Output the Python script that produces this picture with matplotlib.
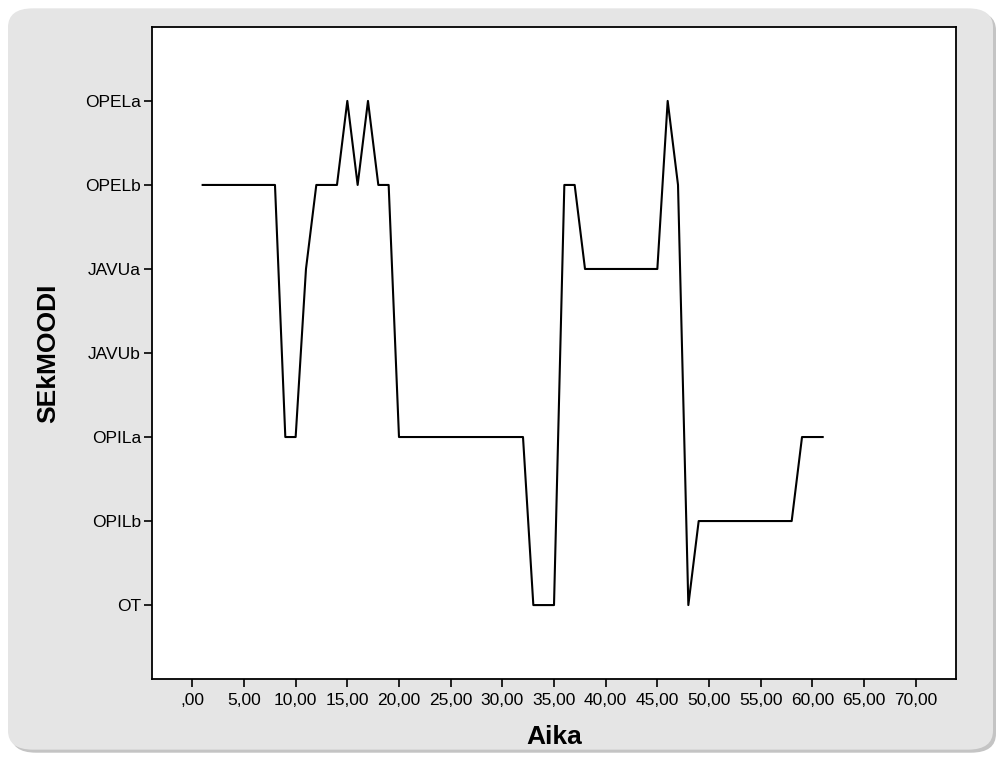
import matplotlib.pyplot as plt
from matplotlib.patches import FancyBboxPatch

plt.rcParams['font.family'] = ['Liberation Sans', 'DejaVu Sans']

# data
categories = ['OT', 'OPILb', 'OPILa', 'JAVUb', 'JAVUa', 'OPELb', 'OPELa']
aika = list(range(1, 62))
moodi = (['OPELb'] * 8 + ['OPILa'] * 2 + ['JAVUa'] + ['OPELb'] * 3 +
         ['OPELa', 'OPELb', 'OPELa', 'OPELb', 'OPELb'] + ['OPILa'] * 13 +
         ['OT'] * 3 + ['OPELb'] * 2 + ['JAVUa'] * 8 +
         ['OPELa', 'OPELb', 'OT'] + ['OPILb'] * 10 + ['OPILa'] * 3)
x_ticks = list(range(0, 75, 5))

y_vals = [categories.index(m) for m in moodi]

fig = plt.figure(figsize=(10, 7.58), dpi=100)
fig.patch.set_facecolor('white')

# rounded grey frame with a soft shadow
shadow = FancyBboxPatch((0.011, 0.007), 0.985, 0.978,
                        boxstyle='round,pad=0,rounding_size=0.025',
                        transform=fig.transFigure, facecolor='#c4c4c4',
                        edgecolor='none', zorder=-2)
frame = FancyBboxPatch((0.008, 0.011), 0.985, 0.978,
                       boxstyle='round,pad=0,rounding_size=0.025',
                       transform=fig.transFigure, facecolor='#e5e5e5',
                       edgecolor='none', zorder=-1)
fig.patches.extend([shadow, frame])

ax = fig.add_axes([0.152, 0.1042, 0.804, 0.8602])
ax.set_facecolor('white')
ax.plot(aika, y_vals, color='black', linewidth=1.5)

ax.set_xlim(-3.9, 73.9)
ax.set_ylim(-0.88, 6.88)
ax.set_xticks(x_ticks)
ax.set_xticklabels([',00' if t == 0 else f'{t:.2f}'.replace('.', ',')
                    for t in x_ticks])
ax.set_yticks(range(len(categories)))
ax.set_yticklabels(categories)
ax.tick_params(axis='both', direction='out', length=6, width=1.2, colors='black',
               labelsize=12.5, pad=2)
ax.tick_params(axis='x', pad=4)
for s in ax.spines.values():
    s.set_linewidth(1.3)
    s.set_color('black')

ax.set_xlabel('Aika', fontsize=19, fontweight='bold', labelpad=12)
ax.set_ylabel('SEkMOODI', fontsize=19, fontweight='bold', labelpad=18)

fig.savefig('out.png', dpi=100)
